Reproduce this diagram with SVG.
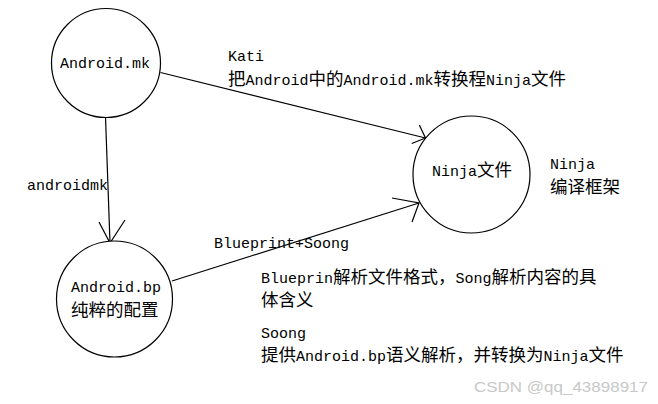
<svg xmlns="http://www.w3.org/2000/svg" width="658" height="404" viewBox="0 0 658 404">
<style>
.n{fill:#fff;stroke:#000;stroke-width:1.2}
.e{fill:none;stroke:#000;stroke-width:1.2}
text{font-family:"Liberation Mono","Noto Sans CJK SC",monospace;font-size:15px;fill:#000}
.c{font-family:"Noto Sans CJK SC","Liberation Mono",sans-serif;font-size:17.5px}
.wm{font-family:"Liberation Sans",Arial,sans-serif;font-size:15px;fill:#c8c8c8}
</style>
<rect width="658" height="404" fill="#fff"/>
<g id="connectors">
<path class="e" d="M160.5,72.5 L425.5,138"/>
<path class="e" d="M419.3,125 L425.5,138 L411.7,143.5"/>
<path class="e" d="M105.5,117 L110,243"/>
<path class="e" d="M99,222 L110,243 L125,220"/>
<path class="e" d="M172,281 L419,203"/>
<path class="e" d="M392,198 L419,203 L412,222"/>
</g>
<g id="android-mk">
<circle class="n" cx="106" cy="63" r="54.5"/>
<text x="60" y="68">Android.mk</text>
</g>
<g id="ninja">
<circle class="n" cx="471.5" cy="174.5" r="58.5"/>
<text x="432" y="176">Ninja<tspan class="c">文件</tspan></text>
</g>
<g id="android-bp">
<circle class="n" cx="114.5" cy="299" r="58"/>
<text x="71" y="292">Android.bp</text>
<text x="71" y="316" class="c">纯粹的配置</text>
</g>
<g id="labels">
<text x="228" y="61">Kati</text>
<text x="228" y="85"><tspan class="c">把</tspan>Android<tspan class="c">中的</tspan>Android.mk<tspan class="c">转换程</tspan>Ninja<tspan class="c">文件</tspan></text>
<text x="27" y="190">androidmk</text>
<text x="550" y="169">Ninja</text>
<text x="550" y="193" class="c">编译框架</text>
<text x="214" y="248">Blueprint+Soong</text>
<text x="261" y="283">Blueprin<tspan class="c">解析文件格式，</tspan>Song<tspan class="c">解析内容的具</tspan></text>
<text x="261" y="306" class="c">体含义</text>
<text x="261" y="338">Soong</text>
<text x="261" y="361"><tspan class="c">提供</tspan>Android.bp<tspan class="c">语义解析，并转换为</tspan>Ninja<tspan class="c">文件</tspan></text>
<text x="474" y="392" class="wm" textLength="174" lengthAdjust="spacingAndGlyphs">CSDN @qq_43898917</text>
</g>
</svg>
